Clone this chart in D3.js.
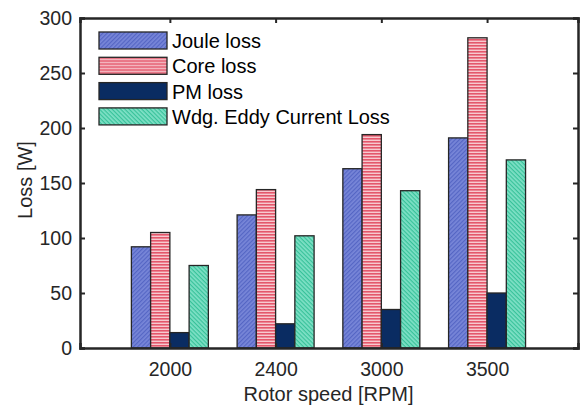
<!DOCTYPE html>
<html>
<head>
<meta charset="utf-8">
<script src="https://cdn.jsdelivr.net/npm/d3@7"></script>
<style>
  body { margin: 0; background: #fff; }
  svg { display: block; font-family: "Liberation Sans", Arial, sans-serif; }
</style>
</head>
<body>
<div id="chart"></div>
<script>
// chart values
const speeds = ["2000", "2400", "3000", "3500"];
const seriesNames = ["Joule loss", "Core loss", "PM loss", "Wdg. Eddy Current Loss"];
const jouleLoss = [92, 121, 163, 191];
const coreLoss = [105, 144, 194, 282];
const pmLoss = [14, 22, 35, 50];
const eddyLoss = [75, 102, 143, 171];
const yTicks = [0, 50, 100, 150, 200, 250, 300];

const width = 582;
const height = 406;
const margin = {left: 80, right: 4, top: 18, bottom: 58};
const ink = "#262626";

const svg = d3.select("#chart")
  .append("svg")
  .attr("width", width)
  .attr("height", height);

// hatch patterns
const defs = svg.append("defs");

function hatch(id, bg, line, size, angle, lw) {
  const p = defs.append("pattern")
    .attr("id", id)
    .attr("patternUnits", "userSpaceOnUse")
    .attr("width", size)
    .attr("height", size)
    .attr("patternTransform", `rotate(${angle})`);
  p.append("rect").attr("width", size).attr("height", size).attr("fill", bg);
  p.append("rect").attr("width", size).attr("height", lw).attr("fill", line);
}
hatch("pJoule", "#7886d8", "#5566c4", 3, -45, 1.2);
hatch("pCore", "#f7c9cf", "#e4576b", 3, 0, 1.6);
hatch("pEddy", "#7fe0c6", "#38c29a", 3, 45, 1.2);

const fills = ["url(#pJoule)", "url(#pCore)", "#0a2c62", "url(#pEddy)"];

const data = speeds.map((s, i) => ({
  speed: s,
  pos: i + 1,
  values: [jouleLoss[i], coreLoss[i], pmLoss[i], eddyLoss[i]]
}));

const x = d3.scaleLinear()
  .domain([0.15, 4.86])
  .range([margin.left, width - margin.right]);

const y = d3.scaleLinear()
  .domain([0, 300])
  .range([height - margin.bottom, margin.top]);

const inner = d3.scaleBand()
  .domain(d3.range(seriesNames.length))
  .range([-0.364, 0.364]);

// bars
const groups = svg.selectAll(".grp")
  .data(data)
  .enter()
  .append("g")
  .attr("class", "grp");

groups.selectAll("rect")
  .data(d => d.values.map((v, k) => ({pos: d.pos, k: k, v: v})))
  .enter()
  .append("rect")
    .attr("x", d => x(d.pos + inner(d.k)))
    .attr("y", d => y(d.v))
    .attr("width", d => x(d.pos + inner(d.k) + inner.bandwidth()) - x(d.pos + inner(d.k)))
    .attr("height", d => y(0) - y(d.v))
    .attr("fill", d => fills[d.k])
    .attr("stroke", ink)
    .attr("stroke-width", 1.3);

// axes
const tickFont = "19.5px";
const labelFont = "20px";

const xAxis = svg.append("g")
  .attr("transform", `translate(0,${y(0)})`)
  .call(d3.axisBottom(x).tickValues([1, 2, 3, 4])
    .tickFormat(d => speeds[d - 1]).tickSize(-5).tickPadding(14));

const yAxis = svg.append("g")
  .attr("transform", `translate(${margin.left},0)`)
  .call(d3.axisLeft(y).tickValues(yTicks).tickSize(-5).tickPadding(8));

const topAxis = svg.append("g")
  .attr("transform", `translate(0,${margin.top})`)
  .call(d3.axisTop(x).tickValues([1, 2, 3, 4]).tickFormat("").tickSize(-5));

const rightAxis = svg.append("g")
  .attr("transform", `translate(${width - margin.right},0)`)
  .call(d3.axisRight(y).tickValues(yTicks).tickFormat("").tickSize(-5));

[xAxis, yAxis, topAxis, rightAxis].forEach(a => {
  a.select(".domain").attr("stroke", ink).attr("stroke-width", 2.5);
  a.selectAll(".tick line").attr("stroke", ink).attr("stroke-width", 2);
  a.selectAll("text").attr("fill", ink).attr("font-size", tickFont)
    .attr("font-family", "Liberation Sans, Arial, sans-serif");
});

// axis titles
svg.append("text")
  .attr("x", 328.5)
  .attr("y", 400.5)
  .attr("text-anchor", "middle")
  .attr("fill", ink)
  .attr("font-size", labelFont)
  .text("Rotor speed [RPM]");

svg.append("text")
  .attr("transform", "translate(32,180) rotate(-90)")
  .attr("text-anchor", "middle")
  .attr("fill", ink)
  .attr("font-size", labelFont)
  .text("Loss [W]");

// legend
const legend = svg.append("g").attr("transform", "translate(99,32)");
const items = legend.selectAll(".item")
  .data(seriesNames)
  .enter()
  .append("g")
  .attr("transform", (d, i) => `translate(0,${i * 25.3})`);

items.append("rect")
  .attr("width", 68)
  .attr("height", 17)
  .attr("fill", (d, i) => fills[i])
  .attr("stroke", ink)
  .attr("stroke-width", 1.3);

items.append("text")
  .attr("x", 73)
  .attr("y", 16)
  .attr("fill", "#000")
  .attr("font-size", labelFont)
  .text(d => d);
</script>
</body>
</html>
